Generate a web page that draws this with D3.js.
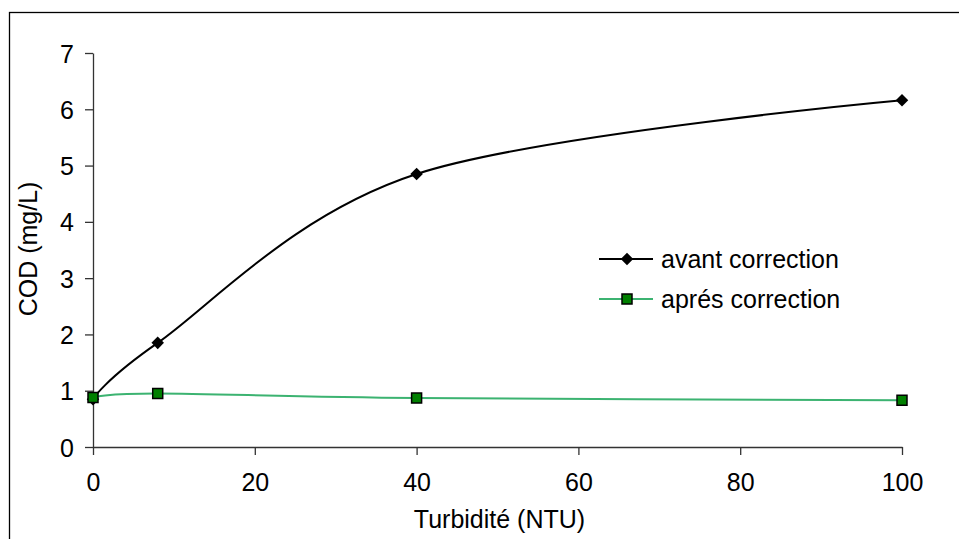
<!DOCTYPE html>
<html>
<head>
<meta charset="utf-8">
<script src="https://cdn.jsdelivr.net/npm/d3@7"></script>
<style>
  body { margin: 0; background: #fff; }
  text { font-family: "Liberation Sans", Arial, sans-serif; fill: #000; }
</style>
</head>
<body>
<div class="chart"></div>
<script>
const turbidity = [0, 8, 40, 100];
const avant = [0.85, 1.85, 4.85, 6.16];
const apres = [0.88, 0.95, 0.87, 0.83];
const xTicks = [0, 20, 40, 60, 80, 100];
const yTicks = [0, 1, 2, 3, 4, 5, 6, 7];
const seriesNames = ["avant correction", "aprés correction"];

const W = 959, H = 539;
const margin = {left: 93, top: 53, right: 57, bottom: 92};
const width = W - margin.left - margin.right;
const height = H - margin.top - margin.bottom;
const fontSize = '25px';

let root = d3.select('.chart')
  .append('svg')
  .attr('width', W)
  .attr('height', H);

// outer chart border
root.append('rect')
  .attr('x', 9.5).attr('y', 12.5)
  .attr('width', 980).attr('height', 560)
  .attr('fill', 'none')
  .attr('stroke', '#000')
  .attr('stroke-width', 1.3);

let svg = root.append('g')
  .attr('transform', "translate(" + margin.left + "," + margin.top + ")");

// scales
let xScale = d3.scaleLinear().domain([0, 100]).range([0, width]);
let yScale = d3.scaleLinear().domain([0, 7]).range([height, 0]);

// axes
let yAxis = d3.axisLeft(yScale)
  .tickValues(yTicks)
  .tickSize(8)
  .tickSizeOuter(0)
  .tickPadding(11)
  .tickFormat(d3.format('d'));

let gy = svg.append('g').call(yAxis);
gy.selectAll('text').style('font-size', fontSize).attr('dy', '0.36em');

let xAxis = d3.axisBottom(xScale)
  .tickValues(xTicks)
  .tickSize(8)
  .tickSizeOuter(0)
  .tickPadding(18)
  .tickFormat(d3.format('d'));

let gx = svg.append('g')
  .attr('transform', "translate(0," + height + ")")
  .call(xAxis);
gx.selectAll('text').style('font-size', fontSize);

[gx, gy].forEach(g => {
  g.selectAll('path, line').attr('stroke', '#333').attr('stroke-width', 1.3);
  g.attr('font-family', null).attr('font-size', null);
});

// axis labels
svg.append('text')
  .attr('x', width / 2 + 2)
  .attr('y', height + 81)
  .attr('text-anchor', 'middle')
  .style('font-size', fontSize)
  .text('Turbidité (NTU)');

svg.append('text')
  .attr('transform', 'rotate(-90)')
  .attr('x', -(249 - margin.top))
  .attr('y', 37 - margin.left)
  .attr('text-anchor', 'middle')
  .style('font-size', fontSize)
  .text('COD (mg/L)');

// lines
let line = d3.line()
  .x(d => xScale(d[0]))
  .y(d => yScale(d[1]))
  .curve(d3.curveCardinal.tension(0));

let avantPts = turbidity.map((t, i) => [t, avant[i]]);
let apresPts = turbidity.map((t, i) => [t, apres[i]]);

svg.append('path')
  .datum(apresPts)
  .attr('d', line)
  .attr('fill', 'none')
  .attr('stroke', '#3cb371')
  .attr('stroke-width', 2);

svg.append('path')
  .datum(avantPts)
  .attr('d', line)
  .attr('fill', 'none')
  .attr('stroke', '#000')
  .attr('stroke-width', 2);

// markers
let diamond = d3.symbol().type(d3.symbolDiamond2).size(100);
let square = d3.symbol().type(d3.symbolSquare).size(100);

svg.selectAll('.avant')
  .data(avantPts)
  .enter()
  .append('path')
  .attr('class', 'avant')
  .attr('transform', d => "translate(" + xScale(d[0]) + "," + yScale(d[1]) + ")")
  .attr('d', diamond)
  .attr('fill', '#000');

svg.selectAll('.apres')
  .data(apresPts)
  .enter()
  .append('path')
  .attr('class', 'apres')
  .attr('transform', d => "translate(" + xScale(d[0]) + "," + yScale(d[1]) + ")")
  .attr('d', square)
  .attr('fill', '#008000')
  .attr('stroke', '#000')
  .attr('stroke-width', 1.5);

// legend
let legend = root.append('g').attr('transform', 'translate(599,0)');
let legendRows = [
  {name: seriesNames[0], y: 259, stroke: '#000', marker: diamond, fill: '#000', mstroke: 'none'},
  {name: seriesNames[1], y: 299, stroke: '#3cb371', marker: square, fill: '#008000', mstroke: '#000'}
];
legendRows.forEach(r => {
  legend.append('line')
    .attr('x1', 0).attr('x2', 54)
    .attr('y1', r.y).attr('y2', r.y)
    .attr('stroke', r.stroke)
    .attr('stroke-width', 2);
  legend.append('path')
    .attr('transform', "translate(28," + r.y + ")")
    .attr('d', r.marker)
    .attr('fill', r.fill)
    .attr('stroke', r.mstroke)
    .attr('stroke-width', 1.5);
  legend.append('text')
    .attr('x', 62)
    .attr('y', r.y)
    .attr('dy', '0.35em')
    .style('font-size', fontSize)
    .text(r.name);
});
</script>
</body>
</html>
